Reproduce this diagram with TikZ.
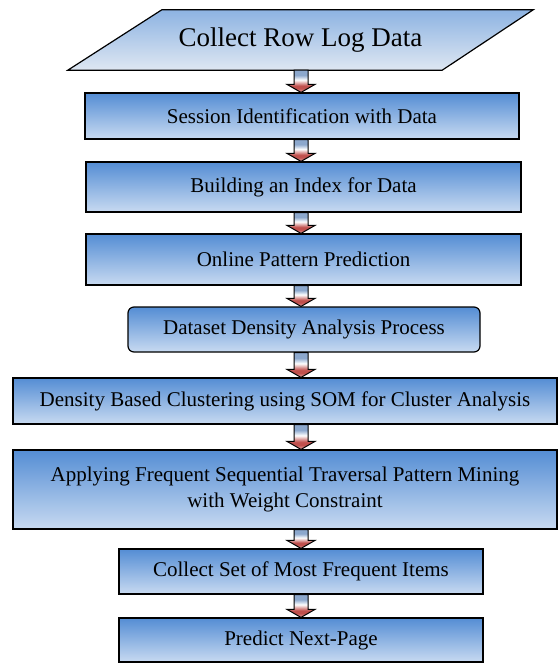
\documentclass[tikz,border=0pt]{standalone}
\usepackage{fontspec}
\setmainfont{Liberation Serif}
\usetikzlibrary{calc,backgrounds}
\definecolor{boxtop}{RGB}{84,141,212}
\definecolor{boxbot}{RGB}{200,218,241}
\definecolor{partop}{RGB}{141,179,226}
\definecolor{parbot}{RGB}{222,231,242}
\definecolor{arrblue}{RGB}{140,168,205}
\definecolor{arrred}{RGB}{192,80,77}
\definecolor{arrpink}{RGB}{232,170,168}
\pgfdeclareverticalshading{flowshade}{100bp}{color(0bp)=(arrpink); color(25bp)=(arrpink); color(34bp)=(arrred); color(40bp)=(arrred); color(53bp)=(white); color(64bp)=(arrblue); color(75bp)=(arrblue); color(100bp)=(arrblue)}
\newcommand{\flowarrow}[2]{%
  \path[draw=black, line width=1pt, shading=flowshade]
    ($(#1.south -| axis)+(-7,0)$) -- ($(#1.south -| axis)+(7,0)$)
    -- ($(#2.north -| axis)+(7,-8)$) -- ($(#2.north -| axis)+(14,-8)$)
    -- (#2.north -| axis) -- ($(#2.north -| axis)+(-14,-8)$)
    -- ($(#2.north -| axis)+(-7,-8)$) -- cycle;}
\begin{document}
\begin{tikzpicture}[x=1pt,y=-1pt,
  box/.style={draw=black, line width=1.2pt, top color=boxtop, bottom color=boxbot,
    inner sep=0pt, align=center, font=\fontsize{21}{26}\selectfont},
  titletext/.style={inner sep=0pt, font=\fontsize{27}{30}\selectfont}]
\useasboundingbox (0,0) rectangle (558,663);
\coordinate (axis) at (301,0);
% title parallelogram
\node[titletext, minimum width=465pt, minimum height=60pt] (p) at (300.5,40) {Collect Row Log Data};
\begin{scope}[on background layer]
\shade[draw=black, line width=1.2pt, top color=partop, bottom color=parbot]
  ($(p.north west)+(94,0)$) -- (p.north east) -- ($(p.south east)+(-91,0)$) -- (p.south west) -- cycle;
\end{scope}
% boxes
\node[box, minimum width=434pt, minimum height=46pt] (b1) at (302,116) {Session Identification with Data};
\node[box, minimum width=435pt, minimum height=50pt] (b2) at (303.5,187) {Building an Index for Data};
\node[box, minimum width=435pt, minimum height=51pt] (b3) at (303.5,259.5) {Online Pattern Prediction};
\node[box, rounded corners=6pt, minimum width=352pt, minimum height=45pt] (b4) at (304,329.5) {Dataset Density Analysis Process};
\node[box, minimum width=544pt, minimum height=46pt] (b5) at (285,401) {Density Based Clustering using SOM for Cluster Analysis};
\node[box, minimum width=544pt, minimum height=79pt] (b6) at (285,489.5) {Applying Frequent Sequential Traversal Pattern Mining\\with Weight Constraint};
\node[box, minimum width=364pt, minimum height=45pt] (b7) at (301,571.5) {Collect Set of Most Frequent Items};
\node[box, minimum width=364pt, minimum height=44pt] (b8) at (301,640) {Predict Next-Page};
% arrows
\flowarrow{p}{b1}
\flowarrow{b1}{b2}
\flowarrow{b2}{b3}
\flowarrow{b3}{b4}
\flowarrow{b4}{b5}
\flowarrow{b5}{b6}
\flowarrow{b6}{b7}
\flowarrow{b7}{b8}
\end{tikzpicture}
\end{document}
